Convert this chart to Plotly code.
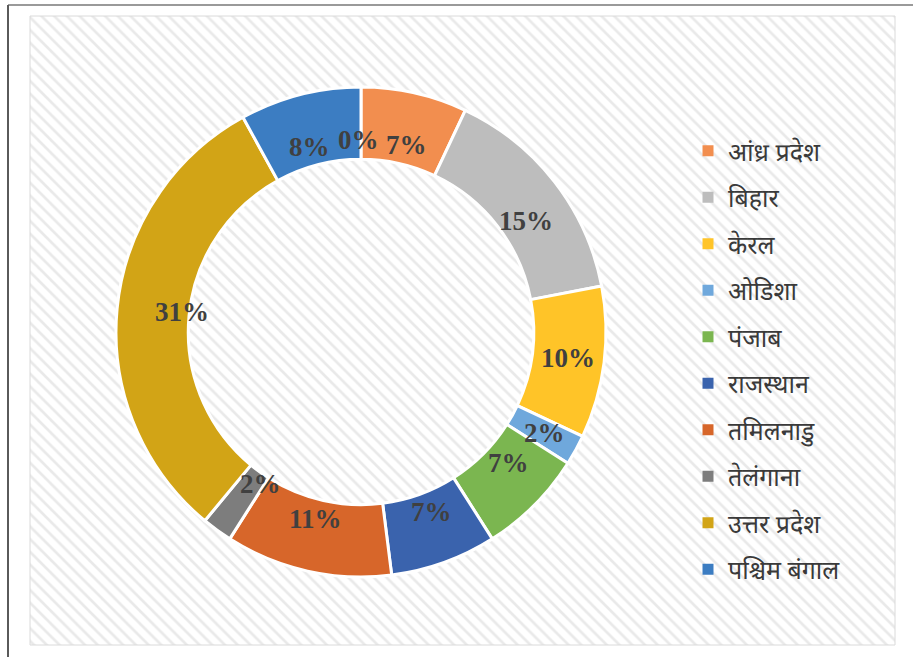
import math
import plotly.graph_objects as go

# State-wise shares (percent)
states = ["आंध्र प्रदेश", "बिहार", "केरल", "ओडिशा", "पंजाब",
          "राजस्थान", "तमिलनाडु", "तेलंगाना", "उत्तर प्रदेश", "पश्चिम बंगाल"]
shares = [7, 15, 10, 2, 7, 7, 11, 2, 31, 8]
trailing_share = 0  # last, unnamed category (shown only as a label)
colors = ["#F28E4F", "#BDBDBD", "#FFC428", "#6FA8DC", "#7BB650",
          "#3A63AD", "#D7662A", "#7D7D7D", "#D2A416", "#3C7DC2"]

W, H = 913, 657
CX, CY, R = 361, 332, 245
HOLE = 0.705
LABEL_R = R * (1 + HOLE) / 2

fig = go.Figure()

# hatched chart area
fig.add_trace(go.Scatter(
    x=[30, 895, 895, 30, 30], y=[16, 16, 645, 645, 16],
    mode="lines", fill="toself", fillcolor="white",
    fillpattern=dict(shape="\\", fgcolor="#d4d4d4", bgcolor="white",
                     size=9, solidity=0.3),
    line=dict(color="#dadada", width=1),
    hoverinfo="skip", showlegend=False,
))

fig.add_trace(go.Pie(
    labels=states, values=shares, sort=False, direction="clockwise",
    rotation=0, hole=HOLE,
    marker=dict(colors=colors, line=dict(color="white", width=3)),
    textinfo="none", showlegend=False, hoverinfo="label+percent",
    domain=dict(x=[(CX - R) / W, (CX + R) / W],
                y=[1 - (CY + R) / H, 1 - (CY - R) / H]),
))

# legend entries
for s, c in zip(states, colors):
    fig.add_trace(go.Scatter(
        x=[None], y=[None], mode="markers", name=s, legendgroup=s,
        marker=dict(symbol="square", size=11, color=c),
    ))

# percentage labels at the middle of each ring segment
total = sum(shares) + trailing_share
annotations = []
cum = 0
for v in shares + [trailing_share]:
    mid = cum + v / 2
    cum += v
    ang = 2 * math.pi * mid / total
    px = CX + LABEL_R * math.sin(ang)
    py = CY - LABEL_R * math.cos(ang)
    if v == trailing_share and cum == total:
        px -= 2
    annotations.append(dict(
        x=px / W, y=1 - py / H, xref="paper", yref="paper",
        text=f"{round(100 * v / total)}%", showarrow=False,
        font=dict(family="Liberation Serif", size=27, color="#404040",
                  weight="bold"),
    ))

fig.update_layout(
    width=W, height=H, margin=dict(l=0, r=0, t=0, b=0),
    paper_bgcolor="white", plot_bgcolor="rgba(0,0,0,0)",
    xaxis=dict(range=[0, W], visible=False, fixedrange=True, domain=[0, 1]),
    yaxis=dict(range=[H, 0], visible=False, fixedrange=True, domain=[0, 1]),
    annotations=annotations,
    legend=dict(x=688 / W, xanchor="left", y=1 - 128 / H, yanchor="top",
                tracegroupgap=11, itemwidth=30, bgcolor="rgba(0,0,0,0)",
                font=dict(family="Noto Sans Devanagari, Lohit Devanagari, Noto Sans, sans-serif",
                          size=25, color="#3a3a3a")),
    shapes=[
        dict(type="line", xref="paper", yref="paper", x0=8 / W, x1=1,
             y0=1 - 5 / H, y1=1 - 5 / H, line=dict(color="#9a9a9a", width=2)),
        dict(type="line", xref="paper", yref="paper", x0=8 / W, x1=8 / W,
             y0=1 - 5 / H, y1=0, line=dict(color="#5a5a5a", width=2)),
    ],
)

fig.write_html("out.html")
